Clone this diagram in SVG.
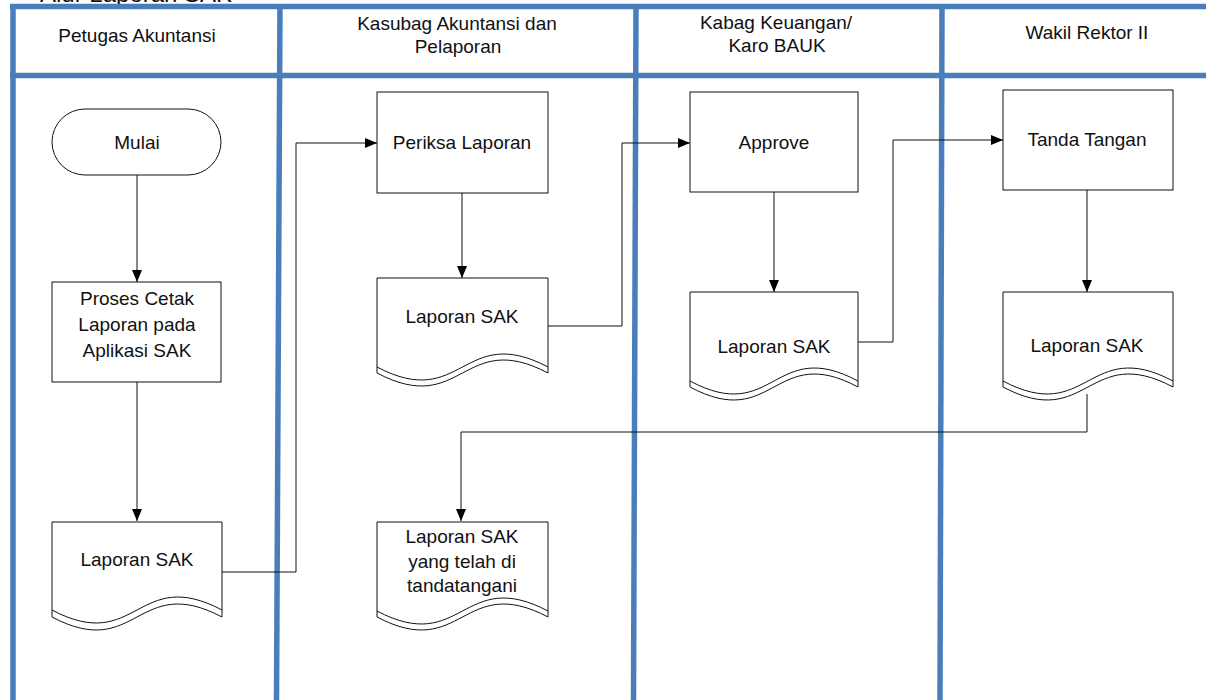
<svg xmlns="http://www.w3.org/2000/svg" width="1206" height="700" viewBox="0 0 1206 700">
<style>
.t{font-family:"Liberation Sans",Arial,sans-serif;font-size:19px;fill:#111;text-anchor:middle}
.shape{fill:#fff;stroke:#111;stroke-width:1}
.wave{fill:none;stroke:#111;stroke-width:1}
.lane{stroke:#4a7ebb;stroke-width:5.5;fill:none}
.conn{fill:none;stroke:#111;stroke-width:1}
</style>
<defs>
<marker id="arr" markerUnits="userSpaceOnUse" markerWidth="12" markerHeight="10" refX="12" refY="5" orient="auto">
<path d="M0,0 L12,5 L0,10 z" fill="#000"/>
</marker>
</defs>
<rect width="1206" height="700" fill="#fff"/>
<text x="40" y="2" style="font-family:'Liberation Sans',Arial,sans-serif;font-size:24px;fill:#111">Alur Laporan SAK</text>
<g id="lanes">
<line class="lane" x1="10" y1="6.5" x2="1206" y2="6.5"/>
<line class="lane" x1="10" y1="75.5" x2="1206" y2="75.5"/>
<line class="lane" x1="13" y1="4" x2="13" y2="700"/>
<line class="lane" x1="280" y1="4" x2="276.5" y2="700"/>
<line class="lane" x1="636" y1="4" x2="633.5" y2="700"/>
<line class="lane" x1="942" y1="4" x2="940" y2="700"/>
</g>
<g id="headers">
<text class="t" x="137" y="42">Petugas Akuntansi</text>
<text class="t" x="457" y="30">Kasubag Akuntansi dan</text>
<text class="t" x="458" y="53">Pelaporan</text>
<text class="t" x="776" y="29">Kabag Keuangan/</text>
<text class="t" x="777" y="52">Karo BAUK</text>
<text class="t" x="1087" y="39">Wakil Rektor II</text>
</g>
<g id="connectors">
<line class="conn" x1="137" y1="175" x2="137" y2="282" marker-end="url(#arr)"/>
<line class="conn" x1="137" y1="382" x2="137" y2="521" marker-end="url(#arr)"/>
<polyline class="conn" points="222,572 296,572 296,143 377,143" marker-end="url(#arr)"/>
<line class="conn" x1="462" y1="193" x2="462" y2="278" marker-end="url(#arr)"/>
<polyline class="conn" points="548,326 622,326 622,143 690,143" marker-end="url(#arr)"/>
<line class="conn" x1="774" y1="192" x2="774" y2="292" marker-end="url(#arr)"/>
<polyline class="conn" points="858,342 893,342 893,140 1003,140" marker-end="url(#arr)"/>
<line class="conn" x1="1087" y1="190" x2="1087" y2="292" marker-end="url(#arr)"/>
<polyline class="conn" points="1087,394 1087,432 461,432 461,521" marker-end="url(#arr)"/>
</g>
<g id="mulai">
<rect class="shape" x="52" y="109" width="169" height="66" rx="33" ry="33"/>
<text class="t" x="137" y="149">Mulai</text>
</g>
<g id="proses-cetak">
<rect class="shape" x="52" y="282" width="169" height="100"/>
<text class="t" x="137" y="305">Proses Cetak</text>
<text class="t" x="137" y="331">Laporan pada</text>
<text class="t" x="137" y="357">Aplikasi SAK</text>
</g>
<g id="laporan-sak-1">
<path class="shape" d="M52,522 H222 V617 C137,572 137,662 52,617 Z"/>
<path class="wave" d="M52,610 C137,655 137,565 222,610"/>
<text class="t" x="137" y="566">Laporan SAK</text>
</g>
<g id="periksa-laporan">
<rect class="shape" x="377" y="92" width="171" height="101"/>
<text class="t" x="462" y="149">Periksa Laporan</text>
</g>
<g id="laporan-sak-2">
<path class="shape" d="M377,278 H548 V373 C462.5,328 462.5,418 377,373 Z"/>
<path class="wave" d="M377,367 C462.5,412 462.5,322 548,367"/>
<text class="t" x="462" y="323">Laporan SAK</text>
</g>
<g id="approve">
<rect class="shape" x="690" y="92" width="168" height="100"/>
<text class="t" x="774" y="149">Approve</text>
</g>
<g id="laporan-sak-3">
<path class="shape" d="M690,292 H858 V387 C774,342 774,432 690,387 Z"/>
<path class="wave" d="M690,381 C774,426 774,336 858,381"/>
<text class="t" x="774" y="353">Laporan SAK</text>
</g>
<g id="tanda-tangan">
<rect class="shape" x="1003" y="90" width="170" height="100"/>
<text class="t" x="1087" y="146">Tanda Tangan</text>
</g>
<g id="laporan-sak-4">
<path class="shape" d="M1003,292 H1173 V387 C1088,342 1088,432 1003,387 Z"/>
<path class="wave" d="M1003,381 C1088,426 1088,336 1173,381"/>
<text class="t" x="1087" y="352">Laporan SAK</text>
</g>
<g id="laporan-sak-ttd">
<path class="shape" d="M377,522 H548 V617 C462.5,572 462.5,662 377,617 Z"/>
<path class="wave" d="M377,611 C462.5,656 462.5,566 548,611"/>
<text class="t" x="462" y="543">Laporan SAK</text>
<text class="t" x="462" y="568">yang telah di</text>
<text class="t" x="462" y="592">tandatangani</text>
</g>
</svg>
